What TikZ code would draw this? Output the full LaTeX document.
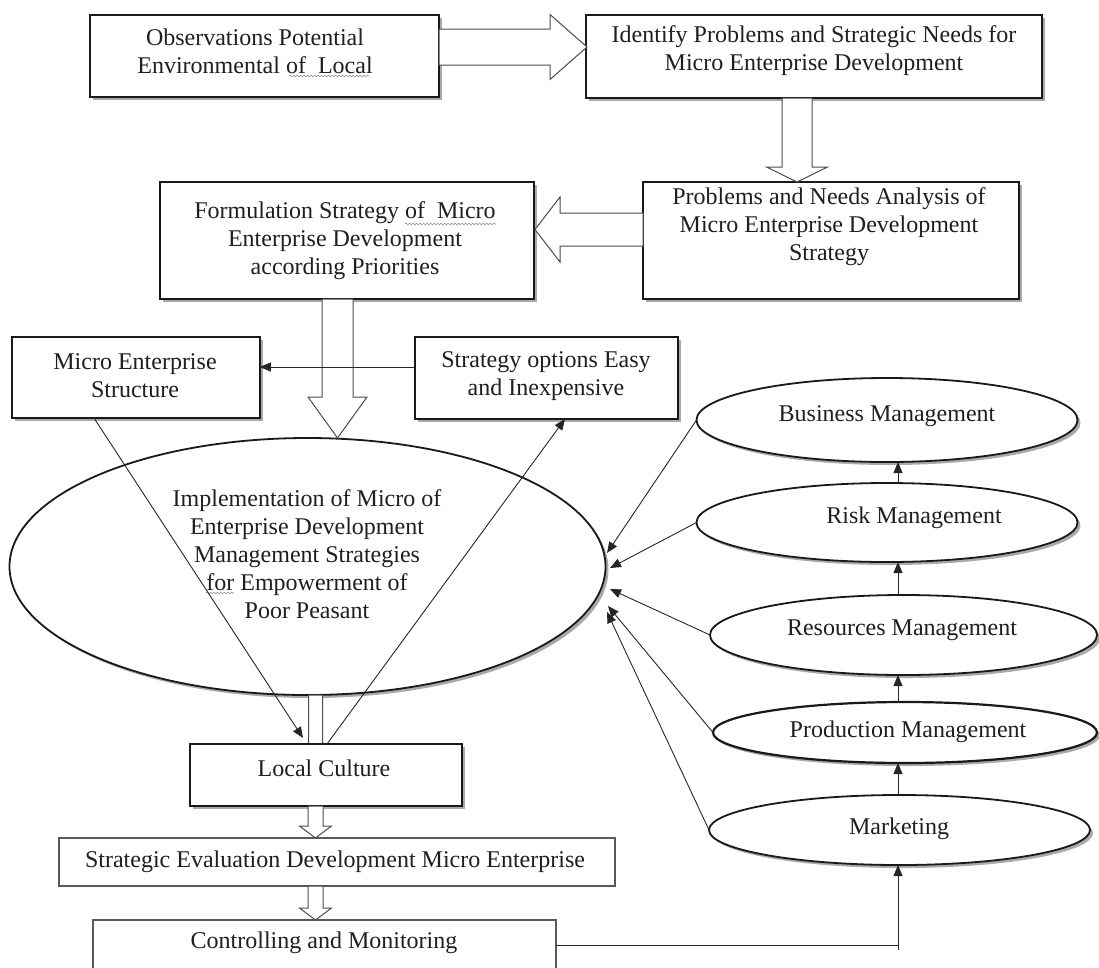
\documentclass[tikz,border=0pt]{standalone}
\usepackage{fontspec}
\setmainfont{Liberation Serif}
\usetikzlibrary{arrows.meta,calc,shadows,shapes.geometric,decorations.pathmorphing}
\newcommand{\blkarr}[5]{%
  \coordinate (hb) at ($(#2)!#5!(#1)$);
  \draw[blk] ($(#1)!#3!90:(#2)$) -- ($(hb)!#3!-90:(#1)$) -- ($(hb)!#4!-90:(#1)$) -- (#2)
    -- ($(hb)!#4!90:(#1)$) -- ($(hb)!#3!90:(#1)$) -- ($(#1)!#3!-90:(#2)$) -- cycle;}
\begin{document}
\begin{tikzpicture}[x=1pt,y=-1pt,
  every node/.style={inner sep=0pt,outer sep=0pt},
  shad/.style={drop shadow={shadow xshift=3pt,shadow yshift=-3pt,fill=black!45,opacity=0.75}},
  box/.style={draw=black!90,line width=1.8pt,fill=white,shad},
  thinbox/.style={draw=black!65,line width=1.1pt,fill=white},
  oval/.style={ellipse,draw=black!90,line width=1.8pt,fill=white,shad},
  txt/.style={align=center,text=black!88,font=\fontsize{24}{28}\selectfont},
  blk/.style={draw=black!70,line width=1pt,fill=white},
  con/.style={draw=black!85,line width=0.9pt,-{Triangle[length=11pt,width=9pt]}},
  plain/.style={draw=black!85,line width=0.9pt},
  wavy/.style={draw=black!45,line width=0.6pt,decorate,decoration={snake,amplitude=0.9pt,segment length=3.5pt}}
]
\useasboundingbox (0,0) rectangle (1099,967);
\clip (0,0) rectangle (1099,967);

% top row
\node[box,minimum width=349pt,minimum height=82pt] (obs) at (264.5,56) {};
\node[txt] (obsT) at (255,51) {Observations Potential\\Environmental of\ \ Local};
\node[box,minimum width=456pt,minimum height=83pt] (ident) at (814,56.5) {};
\node[txt] (identT) at (814,51) {Identify Problems and Strategic Needs for\\Micro Enterprise Development};

% second row
\node[box,minimum width=376pt,minimum height=117pt] (probs) at (831,240.5) {};
\node[txt] (probsT) at (829,227) {Problems and Needs Analysis of\\Micro Enterprise Development\\Strategy};
\node[box,minimum width=374pt,minimum height=117pt] (form) at (347,240.5) {};
\node[txt] (formT) at (345,241) {Formulation Strategy of\ \ Micro\\Enterprise Development\\according Priorities};

% third row
\node[box,minimum width=247.5pt,minimum height=81pt] (me) at (136,377.5) {};
\node[txt] (meT) at (135,376) {Micro Enterprise\\Structure};
\node[box,minimum width=263pt,minimum height=82pt] (strat) at (546.5,378) {};
\node[txt] (stratT) at (546,376) {Strategy options Easy\\and Inexpensive};

% big ellipse
\node[oval,minimum width=596pt,minimum height=257pt] (big) at (307.5,566.5) {};
\node[txt] (bigT) at (307,554) {Implementation of Micro of\\Enterprise Development\\Management Strategies\\for Empowerment of\\Poor Peasant};

% spell-check underlines as printed
\draw[wavy] (289,76) -- (369,76);
\draw[wavy] (405,224) -- (496,224);
\draw[wavy] (206,593) -- (234,593);

% block arrow ellipse -> local culture (head hidden under box)
\coordinate (a5s) at (315.5,695);
\coordinate (a5e) at (315.5,762);
\blkarr{a5s}{a5e}{7pt}{15pt}{12pt}

% lower boxes
\node[box,minimum width=272pt,minimum height=62pt] (local) at (326,775) {};
\node[txt] (localT) at (324,768) {Local Culture};
\node[thinbox,minimum width=556pt,minimum height=48pt] (eval) at (337,862) {};
\node[txt] (evalT) at (335,862) {Strategic Evaluation Development Micro Enterprise};
\node[thinbox,minimum width=463pt,minimum height=70pt] (ctrl) at (324.5,955) {};
\node[txt] (ctrlT) at (324,943) {Controlling and Monitoring};

% right column ellipses
\node[oval,minimum width=381pt,minimum height=84pt] (bus) at (887,420) {};
\node[txt] (busT) at (887,416) {Business Management};
\node[oval,minimum width=381pt,minimum height=79pt] (risk) at (887,522.5) {};
\node[txt] (riskT) at (914,518) {Risk Management};
\node[oval,minimum width=387pt,minimum height=80pt] (res) at (903.5,635) {};
\node[txt] (resT) at (902,630) {Resources Management};
\node[oval,minimum width=384pt,minimum height=61pt,line width=2.2pt] (prod) at (905,732.5) {};
\node[txt] (prodT) at (908,732) {Production Management};
\node[oval,minimum width=381pt,minimum height=70pt] (mkt) at (899.5,830) {};
\node[txt] (mktT) at (899,829) {Marketing};

% block arrows
\coordinate (a1s) at (439,47);
\coordinate (a1e) at (587,47);
\blkarr{a1s}{a1e}{18pt}{32.5pt}{37pt}
\coordinate (a2s) at (797,98);
\coordinate (a2e) at (797,182);
\blkarr{a2s}{a2e}{15pt}{30.5pt}{15pt}
\coordinate (a3s) at (643,229.5);
\coordinate (a3e) at (535,229.5);
\blkarr{a3s}{a3e}{16.5pt}{32.5pt}{25pt}
\coordinate (a4s) at (337.5,299);
\coordinate (a4e) at (337.5,438);
\blkarr{a4s}{a4e}{15.5pt}{29.5pt}{41pt}
\coordinate (a6s) at (315.5,806);
\coordinate (a6e) at (315.5,838);
\blkarr{a6s}{a6e}{7.5pt}{16pt}{12pt}
\coordinate (a7s) at (315.5,886);
\coordinate (a7e) at (315.5,920);
\blkarr{a7s}{a7e}{7.5pt}{16pt}{12pt}

% thin connectors
\draw[con] ($(strat.west)+(0,-11)$) -- ($(me.east)+(0,-10.5)$);
\draw[con] ($(me.south)+(-42,0)$) -- ($(local.north)+(-23,-6)$);
\draw[con] ($(local.north)+(1,0)$) -- ($(strat.south)+(18.5,0)$);

\coordinate (t1) at (607,553);
\coordinate (t2) at (610,568);
\coordinate (t3) at (610,589);
\coordinate (t4) at (608,606);
\coordinate (t5) at (607,612);
\draw[con] (bus.west) -- (t1);
\draw[con] (risk.west) -- (t2);
\draw[con] (res.west) -- (t3);
\draw[con] (prod.west) -- (t4);
\draw[con] (mkt.west) -- (t5);

\coordinate (xl) at (898,0);
\draw[con] (risk.north -| xl) -- (bus.south -| xl);
\draw[con] (res.north -| xl) -- (risk.south -| xl);
\draw[con] (prod.north -| xl) -- (res.south -| xl);
\draw[con] (mkt.north -| xl) -- (prod.south -| xl);
\coordinate (corner) at (898,945);
\draw[plain] (corner) -- ++(0,5);
\draw[con] ($(ctrl.east)+(0,-10)$) -- (corner) -- (mkt.south -| corner);
\end{tikzpicture}
\end{document}
